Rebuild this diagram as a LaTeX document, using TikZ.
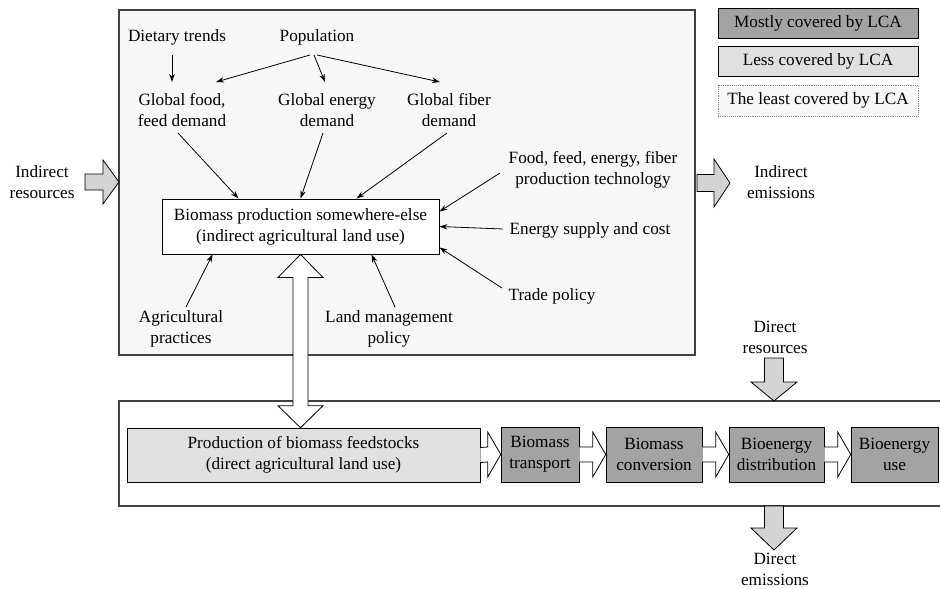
\documentclass[tikz,border=0pt]{standalone}
\usepackage{fontspec}
\setmainfont{Liberation Serif}
\usetikzlibrary{arrows.meta}
\definecolor{panel}{HTML}{F7F7F7}
\definecolor{mostly}{HTML}{A3A3A3}
\definecolor{less}{HTML}{E0E0E0}
\definecolor{flow}{HTML}{D3D3D3}
\tikzset{
  txt/.style={align=center, inner sep=0pt},
  arr/.style={-{Stealth[length=6pt,width=4pt]}, line width=0.6pt},
  mostlybox/.style={draw, fill=mostly, align=center, inner sep=0pt, minimum height={55*0.75pt}},
  lessbox/.style={draw, fill=less, align=center, inner sep=0pt, minimum height={55*0.75pt}},
  flowarrow/.style={draw, fill=flow, line width=0.6pt},
  hollowarrow/.style={draw, fill=white, line width=0.6pt},
}
\begin{document}
\begin{tikzpicture}[x=0.75pt, y=-0.75pt, font=\fontsize{12.9}{15.8}\selectfont]
  \useasboundingbox (0,0) rectangle (940,589);
  % the two frames
  \draw[fill=panel, draw=black!75, line width=0.9pt] (119,10) rectangle (695,355);
  \draw[draw=black!75, line width=0.9pt] (940,401) -- (119,401) -- (119,506) -- (940,506);

  % legend
  \node[mostlybox, minimum width={200*0.75pt}, minimum height={30*0.75pt}] (legmost) at (818,23) {Mostly covered by LCA};
  \node[lessbox, minimum width={200*0.75pt}, minimum height={30*0.75pt}] (legless) at (818,61) {Less covered by LCA};
  \node[draw=black!45, densely dotted, fill=panel, inner sep=0pt, minimum width={200*0.75pt}, minimum height={31*0.75pt}] (legleast) at (818,100.5) {The least covered by LCA};

  % indirect part
  \node[draw, line width=0.7pt, fill=white, txt, minimum width={277*0.75pt}, minimum height={55*0.75pt}] (bio) at (300.5,226.5) {Biomass production somewhere-else\\(indirect agricultural land use)};
  \node[txt] (diet) at (177,37) {Dietary trends};
  \node[txt] (pop) at (317,37) {Population};
  \node[txt] (glfood) at (182,110) {Global food,\\feed demand};
  \node[txt] (glenergy) at (327,110) {Global energy\\demand};
  \node[txt] (glfiber) at (449,110) {Global fiber\\demand};
  \node[txt] (tech) at (593,170) {Food, feed, energy, fiber\\production technology};
  \node[txt] (supply) at (590,230) {Energy supply and cost};
  \node[txt] (trade) at (552,296) {Trade policy};
  \node[txt] (agri) at (181,329) {Agricultural\\practices};
  \node[txt] (landm) at (389,329) {Land management\\policy};

  \draw[arr] ([shift={(-5,18)}]diet.center) -- ([shift={(-10,-28)}]glfood.center);
  \draw[arr] ([shift={(-7,18)}]pop.center) -- ([shift={(34,-28)}]glfood.center);
  \draw[arr] ([shift={(-3,18)}]pop.center) -- ([shift={(-2,-28)}]glenergy.center);
  \draw[arr] ([shift={(0,18)}]pop.center) -- ([shift={(-9,-28)}]glfiber.center);
  \draw[arr] ([shift={(-4,23)}]glfood.center) -- ([shift={(77,0)}]bio.north west);
  \draw[arr] ([shift={(-4,23)}]glenergy.center) -- ([shift={(139,0)}]bio.north west);
  \draw[arr] ([shift={(-2,23)}]glfiber.center) -- ([shift={(195,0)}]bio.north west);
  \draw[arr] ([shift={(-93,3)}]tech.center) -- ([shift={(0,13)}]bio.north east);
  \draw[arr] ([shift={(-87,-1)}]supply.center) -- (bio.east);
  \draw[arr] ([shift={(-50,-8)}]trade.center) -- ([shift={(0,-7)}]bio.south east);
  \draw[arr] ([shift={(5,-22)}]agri.center) -- ([shift={(51,0)}]bio.south west);
  \draw[arr] ([shift={(6,-22)}]landm.center) -- ([shift={(210,0)}]bio.south west);

  % direct part
  \node[lessbox, minimum width={353*0.75pt}, minimum height={54*0.75pt}] (prod) at (303.5,455) {Production of biomass feedstocks\\(direct agricultural land use)};
  \node[mostlybox, minimum width={78*0.75pt}] (trans) at (540,454.5) {Biomass\\transport};
  \node[mostlybox, minimum width={96*0.75pt}] (conv) at (654,454.5) {Biomass\\conversion};
  \node[mostlybox, minimum width={95*0.75pt}] (dist) at (776.5,454.5) {Bioenergy\\distribution};
  \node[mostlybox, minimum width={87*0.75pt}] (use) at (894.5,454.5) {Bioenergy\\use};

  \foreach \a/\b in {prod/trans, trans/conv, conv/dist, dist/use}
    \draw[hollowarrow] ([shift={(0,-7.5)}]\a.east) -- ([shift={(-13,-7.5)}]\b.west)
      -- ([shift={(-13,-22.5)}]\b.west) -- (\b.west) -- ([shift={(-13,22.5)}]\b.west)
      -- ([shift={(-13,7.5)}]\b.west) -- ([shift={(0,7.5)}]\a.east);

  % link between land uses
  \coordinate (vtop) at (bio.south);
  \coordinate (vbot) at (bio.south |- prod.north);
  \draw[hollowarrow] (vtop) -- ([shift={(22.5,23)}]vtop) -- ([shift={(7.5,23)}]vtop)
    -- ([shift={(7.5,-22)}]vbot) -- ([shift={(22.5,-22)}]vbot) -- (vbot)
    -- ([shift={(-22.5,-22)}]vbot) -- ([shift={(-7.5,-22)}]vbot)
    -- ([shift={(-7.5,23)}]vtop) -- ([shift={(-22.5,23)}]vtop) -- cycle;

  % resources and emissions
  \node[txt] (indres) at (42,182) {Indirect\\resources};
  \node[txt] (indem) at (781,182) {Indirect\\emissions};
  \node[txt] (dirres) at (775,337) {Direct\\resources};
  \node[txt] (direm) at (775,569) {Direct\\emissions};

  \coordinate (inres) at (119,182);
  \coordinate (inem) at (730,183);
  \coordinate (dres) at (774,401);
  \coordinate (dem) at (774,550);
  \draw[flowarrow] ([shift={(-34,-8)}]inres) -- ([shift={(-16,-8)}]inres) -- ([shift={(-16,-22)}]inres)
    -- (inres) -- ([shift={(-16,22)}]inres) -- ([shift={(-16,8)}]inres) -- ([shift={(-34,8)}]inres) -- cycle;
  \draw[flowarrow] ([shift={(-33,-8.5)}]inem) -- ([shift={(-16,-8.5)}]inem) -- ([shift={(-16,-24)}]inem)
    -- (inem) -- ([shift={(-16,24)}]inem) -- ([shift={(-16,8.5)}]inem) -- ([shift={(-33,8.5)}]inem) -- cycle;
  \draw[flowarrow] ([shift={(-9.5,-43)}]dres) -- ([shift={(-9.5,-19)}]dres) -- ([shift={(-23,-19)}]dres)
    -- (dres) -- ([shift={(23,-19)}]dres) -- ([shift={(9.5,-19)}]dres) -- ([shift={(9.5,-43)}]dres) -- cycle;
  \draw[flowarrow] ([shift={(-9.5,-44)}]dem) -- ([shift={(-9.5,-22)}]dem) -- ([shift={(-23,-22)}]dem)
    -- (dem) -- ([shift={(23,-22)}]dem) -- ([shift={(9.5,-22)}]dem) -- ([shift={(9.5,-44)}]dem) -- cycle;
\end{tikzpicture}
\end{document}
